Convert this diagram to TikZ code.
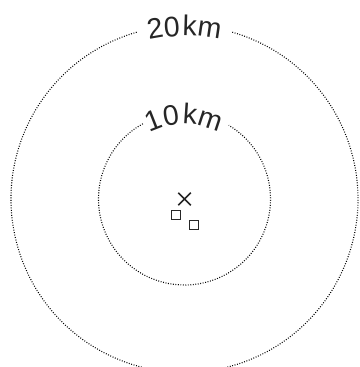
\documentclass[tikz,border=0pt]{standalone}
\usepackage{fontspec}
\setmainfont{Liberation Sans}
\usetikzlibrary{decorations.text,shapes.misc}
\tikzset{
  ring/.style={line width=1.1pt, dash pattern=on 0.9pt off 1.6pt, black},
  sq/.style={draw, line width=1.4pt, minimum size=9pt, inner sep=0pt, black!85},
  cx/.style={cross out, draw, line width=1.5pt, minimum size=11pt, inner sep=0pt, black!85},
}
\begin{document}
\begin{tikzpicture}[x=1pt,y=1pt]
\useasboundingbox (0,0) rectangle (359,367);
\coordinate (c) at (184.5,168);
% outer ring with gap for label
\draw[ring] (c) ++(106:173.5) arc[start angle=106, end angle=434, radius=173.5];
% inner ring with gap for label
\draw[ring] (c) ++(119:86) arc[start angle=119, end angle=419, radius=86];
% labels along arcs
\path[decorate, decoration={text along path, text align=center,
  text={|\fontsize{28.5}{28.5}\selectfont\color{black!85}|20{\kern2pt}km}}]
  (c) ++(150:163) arc[start angle=150, end angle=30, radius=163];
\path[decorate, decoration={text along path, text align=center,
  text={|\fontsize{28.5}{28.5}\selectfont\color{black!85}|10{\kern2pt}km}}]
  (c) ++(170:75) arc[start angle=170, end angle=10, radius=75];
% markers
\node[cx] (x) at (184.5,168) {};
\node[sq] (s1) at (176,152) {};
\node[sq] (s2) at (193.7,142) {};
\end{tikzpicture}
\end{document}
